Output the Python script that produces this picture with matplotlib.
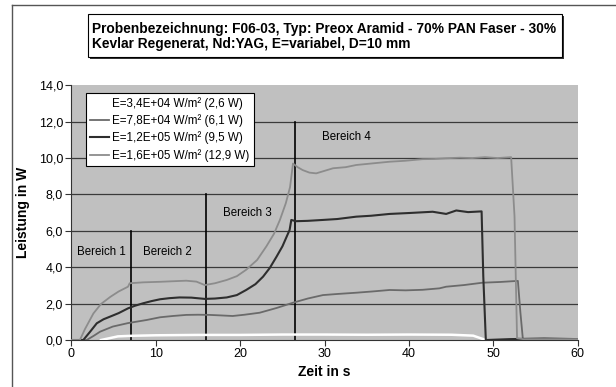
import matplotlib.pyplot as plt
from matplotlib.patches import Rectangle
from matplotlib.lines import Line2D

plt.rcParams['font.family'] = ['Liberation Sans', 'DejaVu Sans']

# Series (time in s, power in W)
labels = ['E=3,4E+04 W/m² (2,6 W)', 'E=7,8E+04 W/m² (6,1 W)',
          'E=1,2E+05 W/m² (9,5 W)', 'E=1,6E+05 W/m² (12,9 W)']

t1 = [3.5, 4.5, 5.5, 7, 10, 15, 20, 25, 30, 35, 40, 45, 47.6, 49.1]
p1 = [0, 0.1, 0.2, 0.23, 0.26, 0.28, 0.28, 0.3, 0.3, 0.29, 0.3, 0.29, 0.24, 0]

t2 = [0, 1.8, 2.6, 3.4, 4.9, 6.7, 8.9, 10.5, 12.0, 13.6, 15.0, 16.4, 17.8, 19.1,
      20.5, 22.3, 24.3, 26.25, 28.0, 29.8, 31.5, 33.75, 35.7, 37.7, 39.6, 41.6,
      43.6, 44.4, 46.5, 48.7, 50.8, 52.9, 53.2, 53.5, 60]
p2 = [0, 0, 0.22, 0.46, 0.74, 0.93, 1.1, 1.25, 1.32, 1.38, 1.39, 1.38, 1.35, 1.32,
      1.39, 1.5, 1.76, 2.05, 2.28, 2.47, 2.53, 2.6, 2.67, 2.75, 2.73, 2.76,
      2.84, 2.93, 3.02, 3.15, 3.19, 3.25, 1.5, 0, 0]

t3 = [0, 1.4, 2.2, 3.0, 3.8, 4.6, 5.6, 6.7, 7.5, 8.5, 9.5, 10.5, 11.6, 12.8, 14.2,
      15.8, 17.0, 18.4, 19.6, 20.7, 21.8, 22.7, 23.5, 24.3, 25.0, 25.5, 25.85, 26.05,
      26.6, 28.0, 29.8, 31.5, 33.75, 35.5, 37.7, 40.0, 42.8, 44.4, 45.6, 47.0, 48.6,
      48.8, 49.1, 52.0, 56.0, 60]
p3 = [0, 0, 0.45, 0.92, 1.14, 1.29, 1.48, 1.74, 1.88, 2.02, 2.14, 2.24, 2.3, 2.34, 2.33,
      2.26, 2.28, 2.34, 2.47, 2.75, 3.07, 3.48, 3.96, 4.58, 5.15, 5.68, 6.05, 6.6,
      6.53, 6.55, 6.6, 6.65, 6.78, 6.83, 6.93, 6.98, 7.05, 6.93, 7.12, 7.03, 7.07,
      3.5, 0, 0.05, 0.08, 0.05]

t4 = [0, 1.0, 1.6, 2.6, 3.5, 4.6, 5.6, 6.7, 6.9, 8.5, 10.5, 12.0, 13.6, 14.8, 15.8,
      17.0, 18.4, 19.6, 20.7, 22.0, 23.1, 24.0, 24.7, 25.4, 25.9, 26.25, 26.8, 27.4,
      28.2, 29.0, 30.0, 31.0, 32.5, 33.75, 35.5, 37.7, 39.5, 41.6, 43.0, 44.4, 46.0,
      47.5, 49.0, 50.5, 52.1, 52.5, 52.8, 53.5, 60]
p4 = [0, 0, 0.6, 1.46, 1.98, 2.37, 2.67, 2.93, 3.12, 3.17, 3.2, 3.23, 3.26, 3.21, 3.02,
      3.12, 3.3, 3.51, 3.86, 4.4, 5.15, 5.84, 6.6, 7.52, 8.4, 9.7, 9.5, 9.34,
      9.2, 9.16, 9.3, 9.44, 9.5, 9.62, 9.7, 9.8, 9.85, 9.94, 9.95, 9.99, 10.02,
      10.0, 10.05, 10.0, 10.05, 6.8, 0.1, 0.05, 0.05]

# Boundaries between the regions (x position, height)
bound_x = [7, 16, 26.5]
bound_top = [6, 8, 12]
regions = ['Bereich 1', 'Bereich 2', 'Bereich 3', 'Bereich 4']
region_x = [3.6, 11.4, 20.8, 32.6]
region_y = [4.85, 4.85, 7.0, 11.15]

fig = plt.figure(figsize=(6.16, 3.87), dpi=100)
ax = fig.add_axes([0.116, 0.1214, 0.822, 0.6582])
ax.set_facecolor('#c0c0c0')

for y in range(2, 14, 2):
    ax.axhline(y, color='#3a3a3a', lw=0.9, zorder=1)

for x, top in zip(bound_x, bound_top):
    ax.plot([x, x], [0, top], color='black', lw=1.2, zorder=2)

ax.plot(t1, p1, color='white', lw=1.8, label=labels[0], zorder=3)
ax.plot(t2, p2, color='#6a6a6a', lw=1.3, label=labels[1], zorder=3)
ax.plot(t3, p3, color='#2e2e2e', lw=1.5, label=labels[2], zorder=3)
ax.plot(t4, p4, color='#8c8c8c', lw=1.3, label=labels[3], zorder=3)

for name, x, y in zip(regions, region_x, region_y):
    ax.text(x, y, name, ha='center', va='center', fontsize=8.3, zorder=4)

ax.set_xlim(0, 60)
ax.set_ylim(0, 14)
ax.set_xticks(range(0, 61, 10))
ax.set_yticks(range(0, 15, 2))
ax.set_yticklabels([f'{v},0' for v in range(0, 15, 2)])
ax.tick_params(labelsize=9, length=4, color='#333333', pad=2)
for s in ['top', 'right']:
    ax.spines[s].set_visible(False)
for s in ['left', 'bottom']:
    ax.spines[s].set_color('#333333')

ax.set_xlabel('Zeit in s', fontsize=10, fontweight='bold', labelpad=3)
ax.set_ylabel('Leistung in W', fontsize=10, fontweight='bold', labelpad=6)

leg = ax.legend(loc='upper left', bbox_to_anchor=(0.0286, 0.97), borderaxespad=0,
                fontsize=8.4, frameon=True, fancybox=False, handlelength=1.6,
                handletextpad=0.3, labelspacing=0.38, borderpad=0.35)
leg.get_frame().set_edgecolor('black')
leg.get_frame().set_linewidth(0.8)
leg.get_frame().set_facecolor('white')
leg.get_frame().set_alpha(1)

# Title box with shadow
W, H = 616, 387
fig.patches.append(Rectangle((90 / W, (H - 59) / H), 474 / W, 43 / H,
                             transform=fig.transFigure, facecolor='#333333',
                             edgecolor='none', zorder=1))
fig.patches.append(Rectangle((88 / W, (H - 57) / H), 474 / W, 43 / H,
                             transform=fig.transFigure, facecolor='white',
                             edgecolor='black', lw=0.8, zorder=2))
fig.text(92 / W, (H - 29) / H,
         'Probenbezeichnung: F06-03, Typ: Preox Aramid - 70% PAN Faser - 30%',
         fontsize=9.9, fontweight='bold', va='center', zorder=3)
fig.text(92 / W, (H - 44) / H, 'Kevlar Regenerat, Nd:YAG, E=variabel, D=10 mm',
         fontsize=9.9, fontweight='bold', va='center', zorder=3)

# Outer chart frame (partially visible)
fig.add_artist(Line2D([12 / W, 12 / W], [0, (H - 5) / H], color='#555555', lw=1))
fig.add_artist(Line2D([12 / W, 1], [(H - 5) / H, (H - 5) / H], color='#555555', lw=1))

fig.savefig('out.png', dpi=100)
